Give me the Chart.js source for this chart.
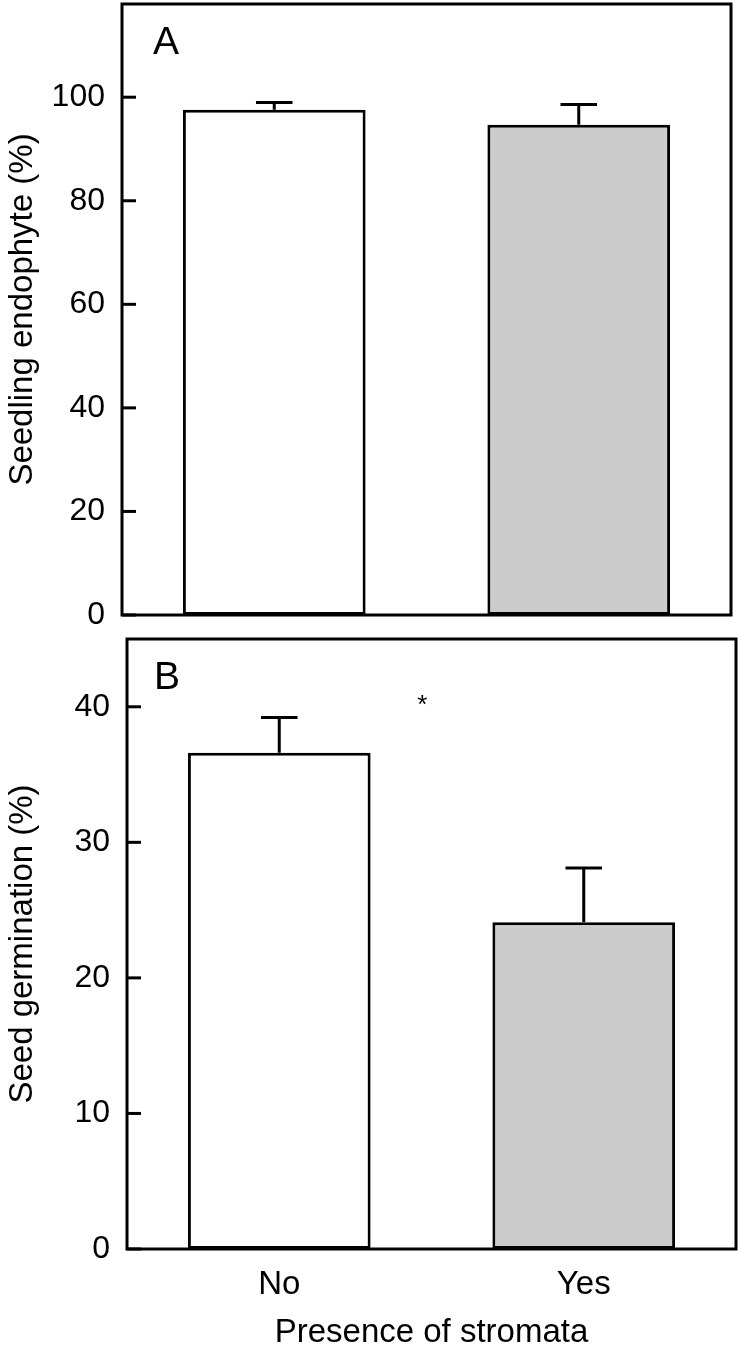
<!DOCTYPE html>
<html>
<head>
<meta charset="utf-8">
<script src="https://cdn.jsdelivr.net/npm/chart.js@4.4.1/dist/chart.umd.min.js"></script>
<style>
  body { margin: 0; background: #fff; }
  #wrap { position: relative; width: 741px; height: 1353px; }
  canvas { position: absolute; left: 0; }
</style>
</head>
<body>
<div id="wrap">
  <canvas id="panelA" width="741" height="630" style="top:0"></canvas>
  <canvas id="panelB" width="741" height="733" style="top:620px"></canvas>
</div>
<script>
const categories = ["No", "Yes"]
const endophyteMeans = [97.6, 94.7]
const endophyteErrors = [1.4, 3.9]
const germinationMeans = [36.6, 24.1]
const germinationErrors = [2.6, 4.0]
const barColors = ["#ffffff", "#cccccc"]
const sigMark = {label: "*", x: 0.47, y: 40.4}

const FONT = "'Liberation Sans', Arial, Helvetica, sans-serif"

// error bars, inward ticks, frame and panel letter
const panelPlugin = {
  id: "panel",
  afterDatasetsDraw(chart, args, opts) {
    const ctx = chart.ctx
    const {left, top, right, bottom} = chart.chartArea
    const xs = chart.scales.x
    const ys = chart.scales.y
    const meta = chart.getDatasetMeta(0)
    const vals = chart.data.datasets[0].data
    ctx.save()
    ctx.strokeStyle = "#000"
    ctx.lineWidth = 3
    meta.data.forEach((bar, i) => {
      const yTop = ys.getPixelForValue(vals[i] + opts.errors[i])
      const cw = bar.width * 0.1
      ctx.beginPath()
      ctx.moveTo(bar.x, bar.y)
      ctx.lineTo(bar.x, yTop)
      ctx.moveTo(bar.x - cw, yTop)
      ctx.lineTo(bar.x + cw, yTop)
      ctx.stroke()
    })
    ys.ticks.forEach(t => {
      const py = ys.getPixelForValue(t.value)
      ctx.beginPath()
      ctx.moveTo(left, py)
      ctx.lineTo(left + 14, py)
      ctx.stroke()
    })
    ctx.strokeRect(left, top, right - left, bottom - top)
    ctx.fillStyle = "#000"
    ctx.font = "39px " + FONT
    ctx.textBaseline = "alphabetic"
    ctx.textAlign = "left"
    ctx.fillText(opts.letter, left + opts.letterDx, top + 50)
    if (opts.mark) {
      ctx.font = "26px " + FONT
      ctx.textAlign = "center"
      ctx.textBaseline = "middle"
      ctx.fillText(opts.mark.label, xs.getPixelForValue(opts.mark.x), ys.getPixelForValue(opts.mark.y) + 4)
    }
    ctx.restore()
  }
}

function makePanel(id, values, errors, cfg) {
  const ctx = document.getElementById(id).getContext("2d")
  return new Chart(ctx, {
    type: "bar",
    data: {
      labels: categories,
      datasets: [{
        data: values,
        backgroundColor: barColors,
        borderColor: "#000",
        borderWidth: 3,
        borderSkipped: false,
        barPercentage: 0.6,
        categoryPercentage: 1,
      }],
    },
    options: {
      responsive: false,
      animation: false,
      layout: {padding: cfg.padding},
      plugins: {
        legend: {display: false},
        tooltip: {enabled: false},
        panel: {errors: errors, letter: cfg.letter, letterDx: cfg.letterDx, mark: cfg.mark},
      },
      scales: {
        x: {
          display: cfg.showX,
          grid: {display: false, drawTicks: false},
          border: {display: false},
          ticks: {color: "#000", font: {size: 33, family: FONT}, padding: 16},
          title: {display: true, text: "Presence of stromata", color: "#000",
                  font: {size: 33, family: FONT}, padding: {top: 0, bottom: 0}},
          afterFit: s => {
            s.height = cfg.xHeight
            s.paddingLeft = 0
            s.paddingRight = 0
          },
        },
        y: {
          min: 0,
          max: cfg.yMax,
          grid: {display: false, drawTicks: false},
          border: {display: false},
          ticks: {stepSize: cfg.step, includeBounds: false, color: "#000",
                  font: {size: 32, family: FONT}, padding: 17},
          title: {display: true, text: cfg.yTitle, color: "#000",
                  font: {size: 33, family: FONT}, padding: {top: 3, bottom: 0}},
          afterFit: s => {
            s.width = cfg.axisWidth
            s.paddingTop = 0
            s.paddingBottom = 0
          },
        },
      },
    },
    plugins: [panelPlugin],
  })
}

makePanel("panelA", endophyteMeans, endophyteErrors, {
  padding: {left: 0, top: 4, right: 10, bottom: 15},
  showX: false, xHeight: 0, yMax: 118, step: 20, axisWidth: 122,
  yTitle: "Seedling endophyte (%)", letter: "A", letterDx: 31, mark: null,
})

makePanel("panelB", germinationMeans, germinationErrors, {
  padding: {left: 0, top: 19, right: 5, bottom: 0},
  showX: true, xHeight: 104, yMax: 45, step: 10, axisWidth: 127,
  yTitle: "Seed germination (%)", letter: "B", letterDx: 27, mark: sigMark,
})
</script>
</body>
</html>
